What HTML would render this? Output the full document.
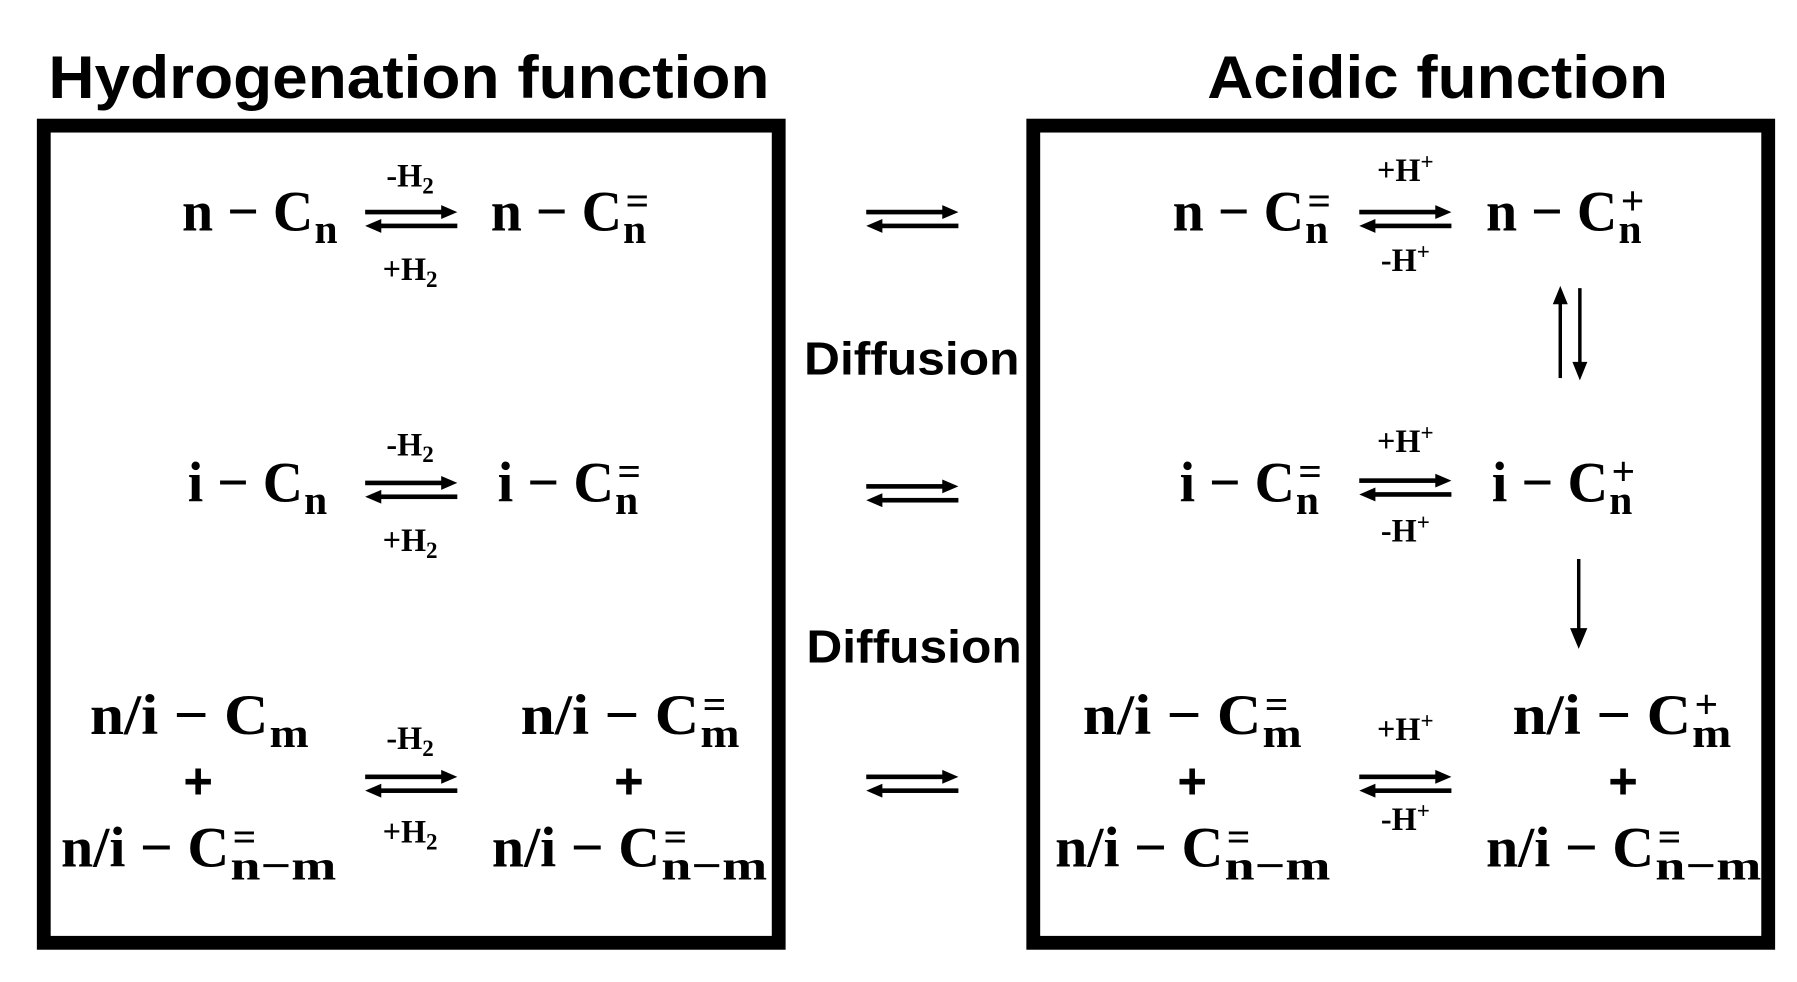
<!DOCTYPE html>
<html><head><meta charset="utf-8"><style>
html,body{margin:0;padding:0;background:#fff;}
svg{display:block;}
.t{font-family:"Liberation Sans",sans-serif;font-weight:bold;}
.s{font-family:"Liberation Serif",serif;font-weight:bold;}
</style></head><body>
<svg width="1797" height="982" viewBox="0 0 1560 852" preserveAspectRatio="none" xmlns="http://www.w3.org/2000/svg">
<defs>
<g id="arr">
<rect x="0" y="-8" width="68" height="4"/>
<polygon points="66,-12 80,-6 66,0"/>
<rect x="12" y="4" width="68" height="4"/>
<polygon points="14,0 0,6 14,12"/>
</g>
</defs>
<text class="t" x="42" y="85" font-size="52" textLength="626" lengthAdjust="spacingAndGlyphs">Hydrogenation function</text>
<text class="t" x="1048" y="85" font-size="52" textLength="400" lengthAdjust="spacingAndGlyphs">Acidic function</text>
<rect x="38" y="109" width="638" height="709" fill="none" stroke="#000" stroke-width="12"/>
<rect x="897" y="109" width="638" height="709" fill="none" stroke="#000" stroke-width="12"/>
<text class="t" x="698" y="325" font-size="40" textLength="187" lengthAdjust="spacingAndGlyphs">Diffusion</text>
<text class="t" x="700" y="575" font-size="40" textLength="187" lengthAdjust="spacingAndGlyphs">Diffusion</text>

<g class="s" font-size="50">
<text x="158" y="200" textLength="114" lengthAdjust="spacingAndGlyphs">n − C</text>
<text x="426" y="200" textLength="114" lengthAdjust="spacingAndGlyphs">n − C</text>
<text x="163" y="435" textLength="100" lengthAdjust="spacingAndGlyphs">i − C</text>
<text x="432" y="435" textLength="101" lengthAdjust="spacingAndGlyphs">i − C</text>
<text x="78" y="637" textLength="155" lengthAdjust="spacingAndGlyphs">n/i − C</text>
<text x="53" y="752" textLength="146" lengthAdjust="spacingAndGlyphs">n/i − C</text>
<text x="452" y="637" textLength="155" lengthAdjust="spacingAndGlyphs">n/i − C</text>
<text x="427" y="752" textLength="146" lengthAdjust="spacingAndGlyphs">n/i − C</text>
<text x="1018" y="200" textLength="114" lengthAdjust="spacingAndGlyphs">n − C</text>
<text x="1290" y="200" textLength="114" lengthAdjust="spacingAndGlyphs">n − C</text>
<text x="1024" y="435" textLength="100" lengthAdjust="spacingAndGlyphs">i − C</text>
<text x="1295" y="435" textLength="101" lengthAdjust="spacingAndGlyphs">i − C</text>
<text x="940" y="637" textLength="155" lengthAdjust="spacingAndGlyphs">n/i − C</text>
<text x="916" y="752" textLength="146" lengthAdjust="spacingAndGlyphs">n/i − C</text>
<text x="1313" y="637" textLength="155" lengthAdjust="spacingAndGlyphs">n/i − C</text>
<text x="1290" y="752" textLength="146" lengthAdjust="spacingAndGlyphs">n/i − C</text>
</g>
<g class="s" font-size="36">
<text x="273" y="211">n</text>
<text x="541" y="211">n</text><text x="543" y="186">=</text>
<text x="264" y="446">n</text>
<text x="534" y="446">n</text><text x="536" y="421">=</text>
<text x="234" y="648" textLength="34" lengthAdjust="spacingAndGlyphs">m</text>
<text x="200" y="763" textLength="92" lengthAdjust="spacingAndGlyphs">n−m</text><text x="202" y="738">=</text>
<text x="608" y="648" textLength="34" lengthAdjust="spacingAndGlyphs">m</text><text x="610" y="623">=</text>
<text x="574" y="763" textLength="92" lengthAdjust="spacingAndGlyphs">n−m</text><text x="576" y="738">=</text>

<text x="1133" y="211">n</text><text x="1135" y="186">=</text>
<text x="1405" y="211">n</text><text x="1407" y="186">+</text>
<text x="1125" y="446">n</text><text x="1127" y="421">=</text>
<text x="1397" y="446">n</text><text x="1399" y="421">+</text>
<text x="1096" y="648" textLength="34" lengthAdjust="spacingAndGlyphs">m</text><text x="1098" y="623">=</text>
<text x="1063" y="763" textLength="92" lengthAdjust="spacingAndGlyphs">n−m</text><text x="1065" y="738">=</text>
<text x="1469" y="648" textLength="34" lengthAdjust="spacingAndGlyphs">m</text><text x="1471" y="623">+</text>
<text x="1437" y="763" textLength="92" lengthAdjust="spacingAndGlyphs">n−m</text><text x="1439" y="738">=</text>
</g>
<g class="t" font-size="44" text-anchor="middle">
<text x="172" y="693">+</text><text x="546" y="693">+</text>
<text x="1035" y="693">+</text><text x="1409" y="693">+</text>
</g>
<g class="s" font-size="28" text-anchor="middle">
<text x="356" y="162">-H<tspan font-size="20" dy="6">2</tspan></text>
<text x="356" y="243">+H<tspan font-size="20" dy="6">2</tspan></text>
<text x="356" y="395">-H<tspan font-size="20" dy="6">2</tspan></text>
<text x="356" y="478">+H<tspan font-size="20" dy="6">2</tspan></text>
<text x="356" y="650">-H<tspan font-size="20" dy="6">2</tspan></text>
<text x="356" y="731">+H<tspan font-size="20" dy="6">2</tspan></text>
<text x="1220" y="157">+H<tspan font-size="20" dy="-10">+</tspan></text>
<text x="1220" y="235">-H<tspan font-size="20" dy="-10">+</tspan></text>
<text x="1220" y="392">+H<tspan font-size="20" dy="-10">+</tspan></text>
<text x="1220" y="470">-H<tspan font-size="20" dy="-10">+</tspan></text>
<text x="1220" y="642">+H<tspan font-size="20" dy="-10">+</tspan></text>
<text x="1220" y="720">-H<tspan font-size="20" dy="-10">+</tspan></text>
</g>
<use href="#arr" x="317" y="190"/>
<use href="#arr" x="317" y="425"/>
<use href="#arr" x="317" y="680"/>
<use href="#arr" x="752" y="190"/>
<use href="#arr" x="752" y="428"/>
<use href="#arr" x="752" y="680"/>
<use href="#arr" x="1180" y="190"/>
<use href="#arr" x="1180" y="423"/>
<use href="#arr" x="1180" y="680"/>
<rect x="1353" y="262" width="3" height="66"/>
<polygon points="1348,264 1354.5,248 1361,264"/>
<rect x="1370" y="250" width="3" height="66"/>
<polygon points="1365,314 1371.5,330 1378,314"/>
<rect x="1369" y="485" width="3" height="62"/>
<polygon points="1363,545 1370.5,563 1378,545"/>
</svg>
</body></html>
